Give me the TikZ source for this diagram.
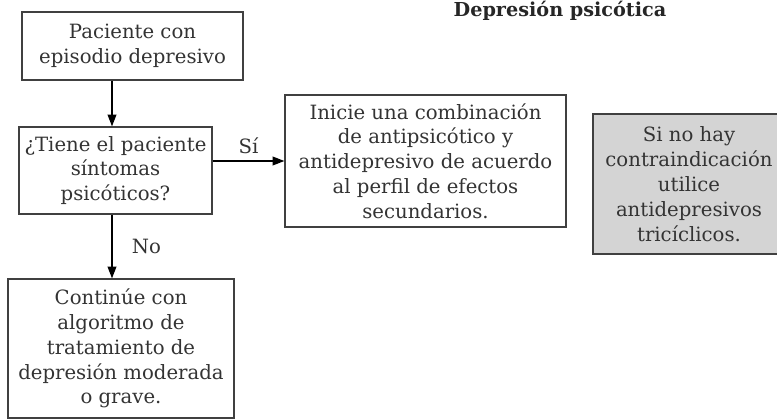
\documentclass[tikz,border=0pt]{standalone}
\usepackage{fontspec}
\setmainfont{DejaVu Serif}
\usetikzlibrary{arrows.meta,calc}
\tikzset{>={Triangle[length=10pt,width=7.5pt]}}
\tikzset{caja/.style={draw=black!75,line width=1.1pt,inner sep=0pt,align=center,
    text=black!80,font=\fontsize{16.8}{21.2}\selectfont},
  gris/.style={caja,fill=black!17},
  rotulo/.style={text=black!80,font=\fontsize{16.8}{20}\selectfont}}

\begin{document}
\begin{tikzpicture}[x=0.03cm,y=-0.03cm]
\useasboundingbox (0,0) rectangle (777,419);
\node[anchor=base,text=black!85,font=\bfseries\fontsize{16.4}{19}\selectfont] (titulo) at (560,17) {Depresión psicótica};

\node[caja,minimum width=6.63cm,minimum height=2.04cm] (inicio) at (132.5,46)
  {Paciente con\\episodio depresivo};
\node[caja,minimum width=5.79cm,minimum height=2.61cm] (pregunta) at (115.5,170.5)
  {¿Tiene el paciente\\síntomas\\psicóticos?};
\node[caja,minimum width=8.43cm,minimum height=3.96cm] (combinacion) at (425.5,161)
  {Inicie una combinación\\de antipsicótico y\\antidepresivo de acuerdo\\al perfil de efectos\\secundarios.};
\node[gris,minimum width=5.76cm,minimum height=4.2cm] (triciclicos) at (689,184)
  {Si no hay\\contraindicación\\utilice\\antidepresivos\\tricíclicos.};
\node[caja,minimum width=6.78cm,minimum height=4.17cm] (continue) at (121,348.5)
  {Continúe con\\algoritmo de\\tratamiento de\\depresión moderada\\o grave.};

\coordinate (eje) at (112,0);
\draw[->,line width=1.1pt] (inicio.south -| eje) -- (pregunta.north -| eje);
\draw[->,line width=1.1pt] (pregunta.east |- combinacion.west) -- node[rotulo,above=2pt] {Sí} (combinacion.west);
\draw[->,line width=1.1pt] (pregunta.south -| eje) -- node[rotulo,right=13pt] {No} (continue.north -| eje);
\end{tikzpicture}
\end{document}
